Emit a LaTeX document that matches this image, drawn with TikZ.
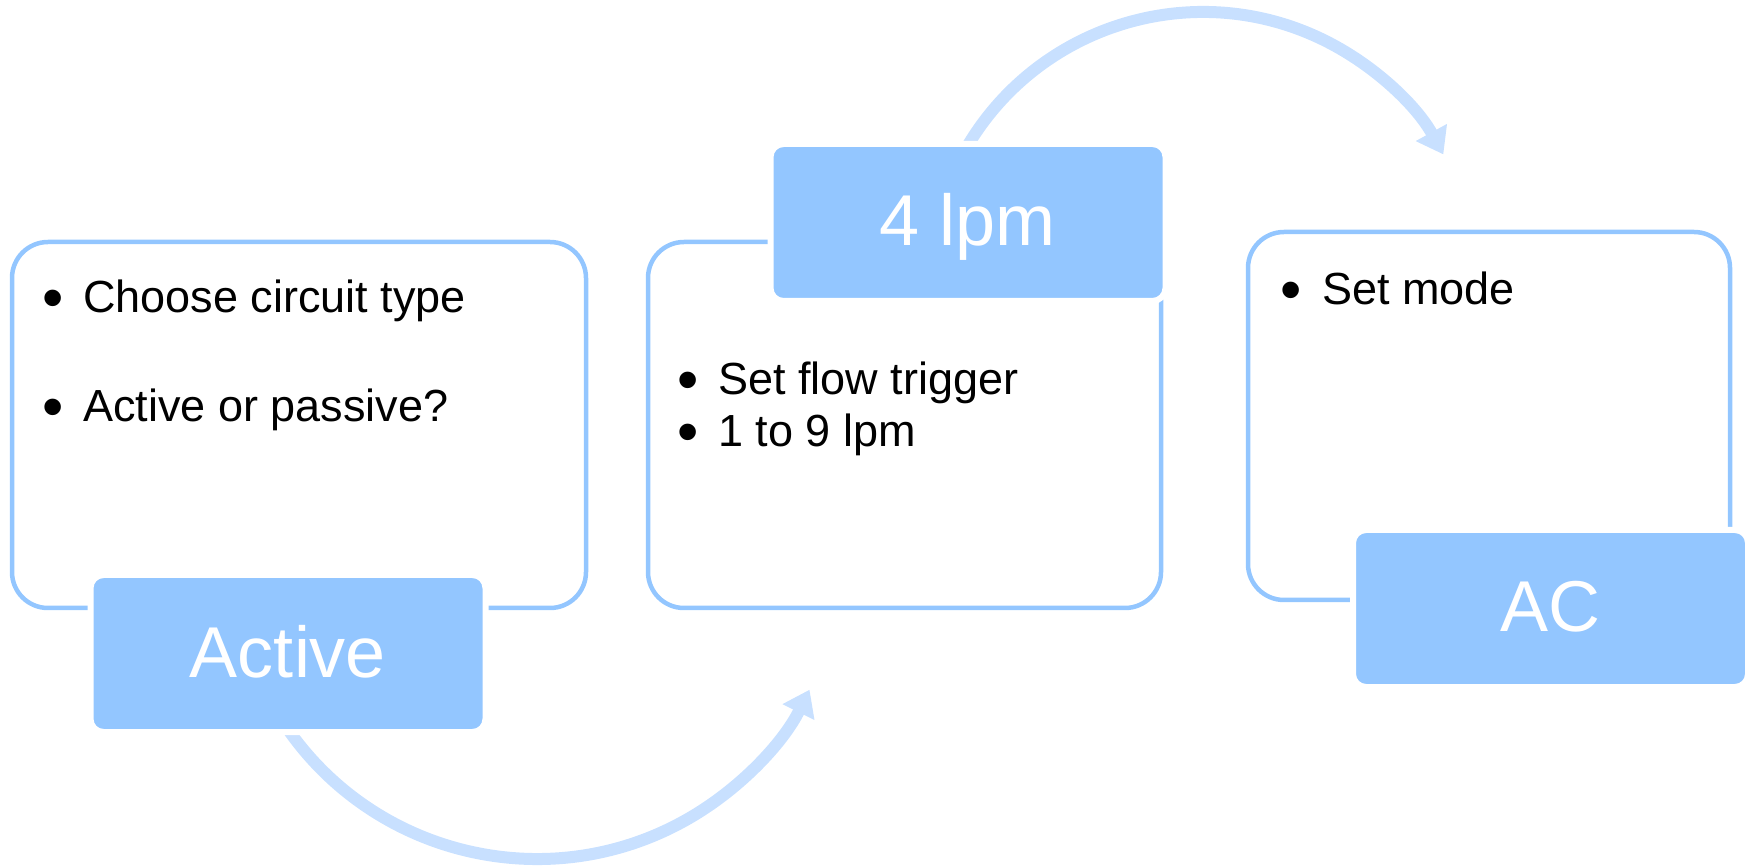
\documentclass[tikz,border=0pt]{standalone}
\usepackage{fontspec}
\setmainfont{Liberation Sans}
\usetikzlibrary{arrows.meta}
\definecolor{boxblue}{RGB}{147,198,255}
\definecolor{arcblue}{RGB}{200,224,255}
\newcommand{\bulletfont}{\fontsize{45pt}{54pt}\selectfont}
\newcommand{\bigfont}{\fontsize{72pt}{86pt}\selectfont}
\newcommand{\bitem}[2]{\makebox[#1][l]{\raisebox{-6pt}{\scalebox{1.35}{\textbullet}}}#2}
\tikzset{
  x=1pt, y=1pt,
  outbox/.style={draw=boxblue, line width=4.5pt, rounded corners=36pt, minimum height=366pt, inner sep=0pt},
  fillbox/.style={fill=boxblue, draw=white, line width=6pt, rounded corners=13pt,
    minimum width=395pt, minimum height=157pt, inner sep=0pt, text=white, font=\bigfont,
    text height=47pt, text depth=0pt},
  itemtext/.style={anchor=base west, inner sep=0pt, font=\bulletfont, text=black},
  cyclearc/.style={draw=arcblue, line width=12pt, -{Triangle[length=25pt,width=34pt]}}
}
\begin{document}
\begin{tikzpicture}
\useasboundingbox (0,0) rectangle (1750,865);
% outline boxes
\node[outbox, minimum width=574pt] (b1) at (299,440) {};
\node[outbox, minimum width=513pt] (b2) at (904.5,440) {};
\node[outbox, minimum width=482pt, minimum height=368pt] (b3) at (1489,449) {};
% arc centres
\coordinate (c1) at (537,310);
\coordinate (c2) at (1203,579);
% arcs
\draw[cyclearc] (c1) ++(212:304) coordinate (a1s) arc[start angle=212, end angle=333.7, radius=304] coordinate (a1e);
\draw[cyclearc] (c2) ++(152:274) coordinate (a2s) arc[start angle=152, end angle=28.7, radius=274] coordinate (a2e);
% filled label boxes
\node[fillbox] (active) at (288,211.5) {Active};
\node[fillbox] (lpm) at (968,642.5) {4 lpm};
\node[fillbox] (ac) at (1550.5,256.5) {AC};
% bullet texts
\node[itemtext] (t11) at (42,552) {\bitem{41pt}{Choose circuit type}};
\node[itemtext] (t12) at (42,443) {\bitem{41pt}{Active or passive?}};
\node[itemtext] (t21) at (677,470) {\bitem{41pt}{Set flow trigger}};
\node[itemtext] (t22) at (677,418) {\bitem{41pt}{1 to 9 lpm}};
\node[itemtext] (t31) at (1280,560) {\bitem{42pt}{Set mode}};
\end{tikzpicture}
\end{document}
